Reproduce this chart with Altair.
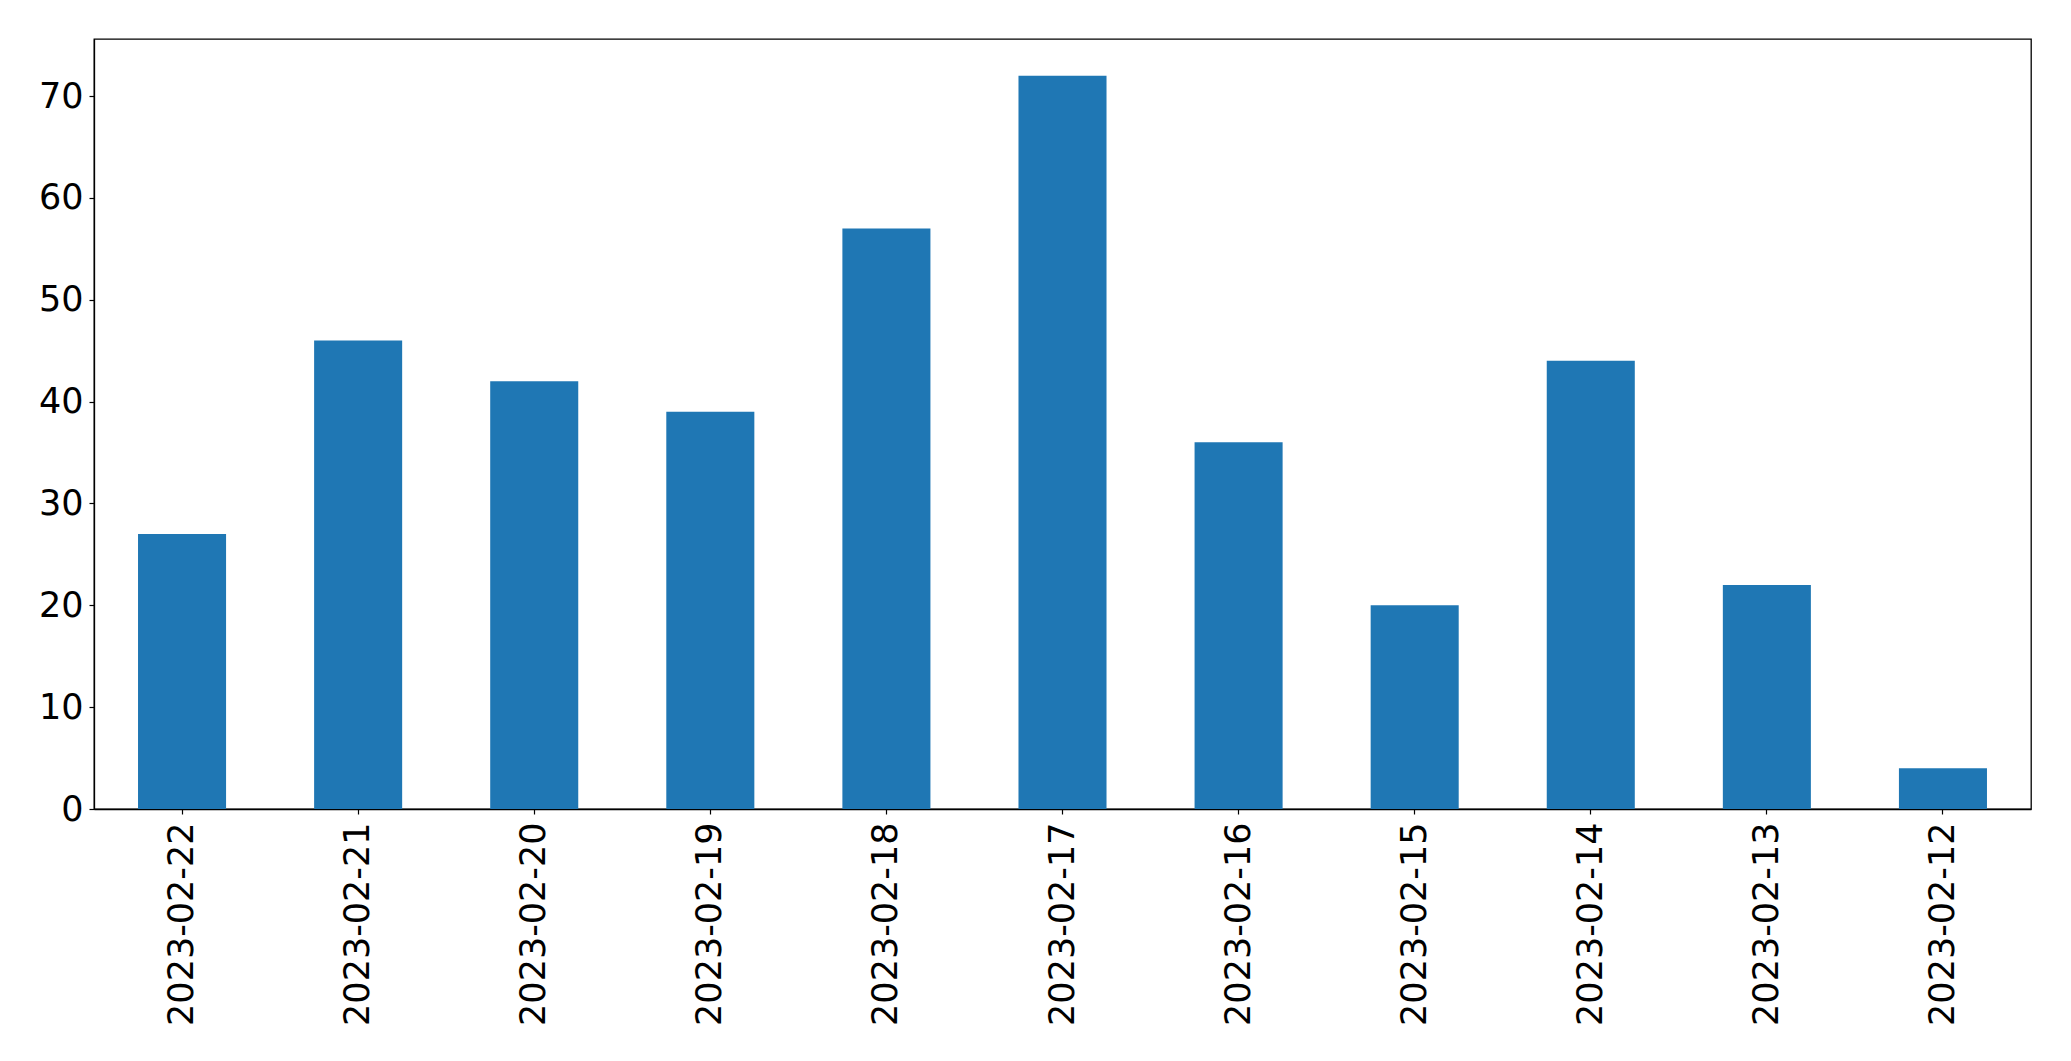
import altair as alt
import pandas as pd

dates = ["2023-02-22", "2023-02-21", "2023-02-20", "2023-02-19", "2023-02-18",
         "2023-02-17", "2023-02-16", "2023-02-15", "2023-02-14", "2023-02-13",
         "2023-02-12"]
counts = [27, 46, 42, 39, 57, 72, 36, 20, 44, 22, 4]

df = pd.DataFrame({"date": dates, "count": counts})

FONT = "DejaVu Sans"
FS = 35

chart = alt.Chart(df).mark_bar(color="#1f77b4").encode(
    x=alt.X("date:N", sort=dates,
            scale=alt.Scale(paddingInner=0.5, paddingOuter=0.25),
            axis=alt.Axis(title=None, labelAngle=270, labelFontSize=FS,
                          labelFont=FONT, labelColor="black", labelPadding=8,
                          labelLimit=0,
                          tickSize=5, tickColor="black", tickWidth=1.2,
                          domainColor="black", domainWidth=1.3)),
    y=alt.Y("count:Q", scale=alt.Scale(domain=[0, 75.6], nice=False, zero=True),
            axis=alt.Axis(title=None, values=[0, 10, 20, 30, 40, 50, 60, 70],
                          labelFontSize=FS, labelFont=FONT, labelColor="black",
                          labelPadding=6, tickSize=5, tickColor="black",
                          tickWidth=1.2, grid=False, domainColor="black",
                          domainWidth=1.3)),
).properties(
    width=1937, height=770,
    autosize=alt.AutoSizeParams(type="none"),
    padding={"left": 86, "top": 31, "right": 10, "bottom": 240},
).configure_view(stroke="black", strokeWidth=1.3)

chart.save("out.html", embed_options={"renderer": "svg", "actions": False})
